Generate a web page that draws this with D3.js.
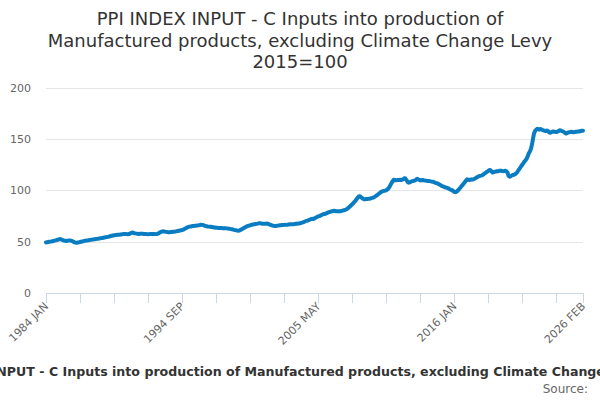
<!DOCTYPE html>
<html>
<head>
<meta charset="utf-8">
<script src="https://cdn.jsdelivr.net/npm/d3@7/dist/d3.min.js"></script>
<style>
  html, body { margin: 0; padding: 0; background: #fff; }
  svg { display: block; font-family: "DejaVu Sans", sans-serif; }
</style>
</head>
<body>
<svg id="chart" width="600" height="400"></svg>
<script>
// ---- Data ----
const titleLines = ["PPI INDEX INPUT - C Inputs into production of", "Manufactured products, excluding Climate Change Levy", "2015=100"];
const seriesName = "PPI INDEX INPUT - C Inputs into production of Manufactured products, excluding Climate Change Levy";
const startYear = 1984;
const monthNames = ["JAN","FEB","MAR","APR","MAY","JUN","JUL","AUG","SEP","OCT","NOV","DEC"];
const yTicks = [0, 50, 100, 150, 200];
const xLabelCategories = ["1984 JAN", "1994 SEP", "2005 MAY", "2016 JAN", "2026 FEB"];

// monthly values, Jan 1984 .. Feb 2026
const values = [
  49.2,49.4,49.6,49.8,50.0,50.1,50.3,50.6,50.9,51.2,51.5,51.8, // 1984
  52.2,52.5,52.3,51.8,51.4,51.0,50.8,50.6,50.8,51.0,51.1,51.0, // 1985
  50.8,50.3,49.8,49.3,49.0,48.9,49.1,49.3,49.6,49.9,50.2,50.4, // 1986
  50.7,50.9,51.1,51.2,51.3,51.5,51.7,51.9,52.0,52.2,52.3,52.5, // 1987
  52.7,52.9,53.0,53.2,53.4,53.6,53.8,54.0,54.2,54.4,54.6,54.8, // 1988
  55.2,55.5,55.7,55.9,56.2,56.3,56.5,56.6,56.7,56.8,56.9,57.0, // 1989
  57.3,57.4,57.4,57.3,57.3,57.2,57.4,57.8,58.4,58.8,58.6,58.2, // 1990
  58.0,57.8,57.6,57.5,57.6,57.6,57.7,57.6,57.5,57.5,57.4,57.3, // 1991
  57.2,57.3,57.4,57.4,57.5,57.5,57.4,57.3,57.4,57.6,58.2,58.8, // 1992
  59.4,59.8,60.0,59.9,59.7,59.5,59.3,59.2,59.2,59.3,59.4,59.6, // 1993
  59.6,59.7,59.9,60.2,60.4,60.6,60.8,61.0,61.3,61.7,62.2,62.8, // 1994
  63.4,63.9,64.3,64.6,64.8,65.0,65.2,65.3,65.4,65.5,65.6,65.8, // 1995
  66.0,66.2,66.4,66.3,66.0,65.6,65.2,64.9,64.7,64.6,64.5,64.4, // 1996
  64.2,64.0,63.8,63.7,63.5,63.4,63.3,63.2,63.2,63.2,63.1,63.1, // 1997
  63.0,63.0,62.9,62.8,62.6,62.4,62.2,62.0,61.7,61.4,61.2,61.0, // 1998
  60.7,60.6,60.9,61.4,62.0,62.6,63.2,63.8,64.4,64.9,65.3,65.6, // 1999
  65.9,66.3,66.6,66.7,66.9,67.1,67.3,67.5,67.8,68.0,67.8,67.5, // 2000
  67.4,67.3,67.4,67.5,67.6,67.3,66.8,66.4,66.0,65.6,65.4,65.3, // 2001
  65.3,65.4,65.6,65.8,65.9,66.0,66.2,66.1,66.3,66.4,66.3,66.4, // 2002
  66.6,66.9,67.0,66.8,66.8,67.0,67.2,67.3,67.4,67.6,67.7,67.9, // 2003
  68.2,68.5,68.9,69.4,69.9,70.2,70.5,70.9,71.3,71.9,72.2,72.0, // 2004
  72.4,72.9,73.5,74.1,74.5,74.8,75.3,75.8,76.4,76.8,76.9,77.2, // 2005
  77.7,78.2,78.6,79.0,79.3,79.5,79.8,80.0,79.8,79.6,79.5,79.5, // 2006
  79.5,79.6,79.9,80.2,80.5,80.8,81.2,81.8,82.5,83.4,84.4,85.4, // 2007
  86.4,87.5,88.6,89.8,91.2,92.6,93.8,94.2,93.6,92.6,91.8,91.3, // 2008
  91.2,91.4,91.5,91.6,91.8,92.0,92.3,92.6,93.0,93.5,94.2,95.0, // 2009
  95.8,96.6,97.4,98.2,98.8,99.1,99.4,99.7,100.0,100.6,101.8,103.3, // 2010
  105.3,107.2,108.8,110.2,110.0,109.7,109.8,110.1,109.9,110.2,110.0,110.3, // 2011
  110.6,111.7,111.4,109.9,108.2,107.4,107.6,108.3,108.7,108.9,109.3,109.4, // 2012
  110.3,111.1,110.6,110.0,109.6,109.8,110.0,109.7,109.6,109.4,109.2,109.1, // 2013
  109.1,108.9,108.6,108.4,108.2,107.8,107.3,107.0,106.7,106.2,105.6,104.9, // 2014
  104.2,103.9,103.5,102.9,102.6,102.4,102.0,101.4,100.8,100.3,100.0,99.3, // 2015
  98.4,98.1,98.5,99.4,100.5,101.6,103.0,104.3,105.5,106.7,108.0,109.4, // 2016
  110.6,110.3,110.0,110.2,110.6,110.4,110.6,111.2,111.8,112.5,113.1,113.6, // 2017
  114.0,114.2,114.5,115.2,116.0,116.7,117.5,118.2,118.9,119.8,119.5,118.2, // 2018
  117.3,117.6,118.0,118.2,118.5,118.4,118.8,119.1,119.0,118.8,118.6,118.7, // 2019
  118.9,118.4,117.2,114.0,113.2,113.7,114.3,114.8,115.1,115.6,116.3,117.4, // 2020
  119.0,120.5,122.0,123.6,125.0,126.5,128.0,129.3,130.7,133.0,136.0,137.6, // 2021
  140.2,144.5,150.2,155.5,157.8,158.9,159.8,159.4,159.0,159.6,159.2,158.6, // 2022
  158.2,157.8,157.5,158.2,157.6,156.4,156.0,156.3,157.0,157.2,157.0,156.8, // 2023
  156.7,157.0,157.6,158.4,158.2,157.6,157.2,156.8,155.8,155.2,155.6,156.2, // 2024
  156.4,156.6,156.9,156.7,156.4,156.6,156.9,157.0,157.1,157.2,157.4,157.7, // 2025
  157.9,158.0                                                   // 2026
];

// ---- Build categories ----
const categories = values.map((v, i) => (startYear + Math.floor(i / 12)) + " " + monthNames[i % 12]);
const data = values.map((v, i) => ({ i, cat: categories[i], v }));

// ---- Layout ----
const svg = d3.select("#chart");
const W = 600, H = 400;
const plot = { left: 46, right: 583, top: 87.5, bottom: 293 };

const x = d3.scaleLinear().domain([0, values.length - 1]).range([plot.left, plot.right]);
const y = d3.scaleLinear().domain([0, 200]).range([plot.bottom, plot.top]);

// Title
const title = svg.append("text")
  .attr("x", W / 2).attr("y", 25)
  .attr("text-anchor", "middle")
  .attr("fill", "#333333")
  .style("font-size", "18px");
titleLines.forEach((t, k) => {
  title.append("tspan").attr("x", W / 2).attr("dy", k === 0 ? 0 : 21.5).text(t);
});

// Gridlines
svg.append("g").selectAll("line")
  .data(yTicks.filter(d => d > 0))
  .join("line")
  .attr("x1", plot.left).attr("x2", plot.right)
  .attr("y1", d => Math.round(y(d)) + 0.5).attr("y2", d => Math.round(y(d)) + 0.5)
  .attr("stroke", "#e6e6e6").attr("stroke-width", 1);

// Y axis labels
svg.append("g").selectAll("text")
  .data(yTicks)
  .join("text")
  .attr("x", 31).attr("y", d => y(d) + 4)
  .attr("text-anchor", "end")
  .attr("fill", "#666666")
  .style("font-size", "11px")
  .text(d => d);

// X axis line + ticks
const tickIdx = d3.range(0, values.length, 32).concat([values.length - 1]);
svg.append("line")
  .attr("x1", plot.left).attr("x2", plot.right)
  .attr("y1", plot.bottom + 0.5).attr("y2", plot.bottom + 0.5)
  .attr("stroke", "#ccd6eb");
svg.append("g").selectAll("line")
  .data(tickIdx)
  .join("line")
  .attr("x1", d => Math.round(x(d)) + 0.5).attr("x2", d => Math.round(x(d)) + 0.5)
  .attr("y1", plot.bottom).attr("y2", plot.bottom + 10)
  .attr("stroke", "#ccd6eb");

// X labels
svg.append("g").selectAll("text")
  .data(xLabelCategories)
  .join("text")
  .attr("transform", d => `translate(${x(categories.indexOf(d)) + 3},${plot.bottom + 14}) rotate(-45)`)
  .attr("text-anchor", "end")
  .attr("fill", "#666666")
  .style("font-size", "11px")
  .text(d => d);

// Line
const line = d3.line().x(d => x(d.i)).y(d => y(d.v));
svg.append("path")
  .datum(data)
  .attr("d", line)
  .attr("fill", "none")
  .attr("stroke", "#0a7cc1")
  .attr("stroke-width", 4)
  .attr("stroke-linejoin", "round")
  .attr("stroke-linecap", "round");

// Legend (wider than the chart, cut at both page edges as in the original)
svg.append("text")
  .attr("x", 279).attr("y", 376)
  .attr("text-anchor", "middle")
  .attr("fill", "#333333")
  .style("font-size", "12.6px")
  .style("font-weight", "bold")
  .text(seriesName);

// Source
svg.append("text")
  .attr("x", 588).attr("y", 393)
  .attr("text-anchor", "end")
  .attr("fill", "#666666")
  .style("font-size", "12px")
  .text("Source:");
</script>
</body>
</html>
